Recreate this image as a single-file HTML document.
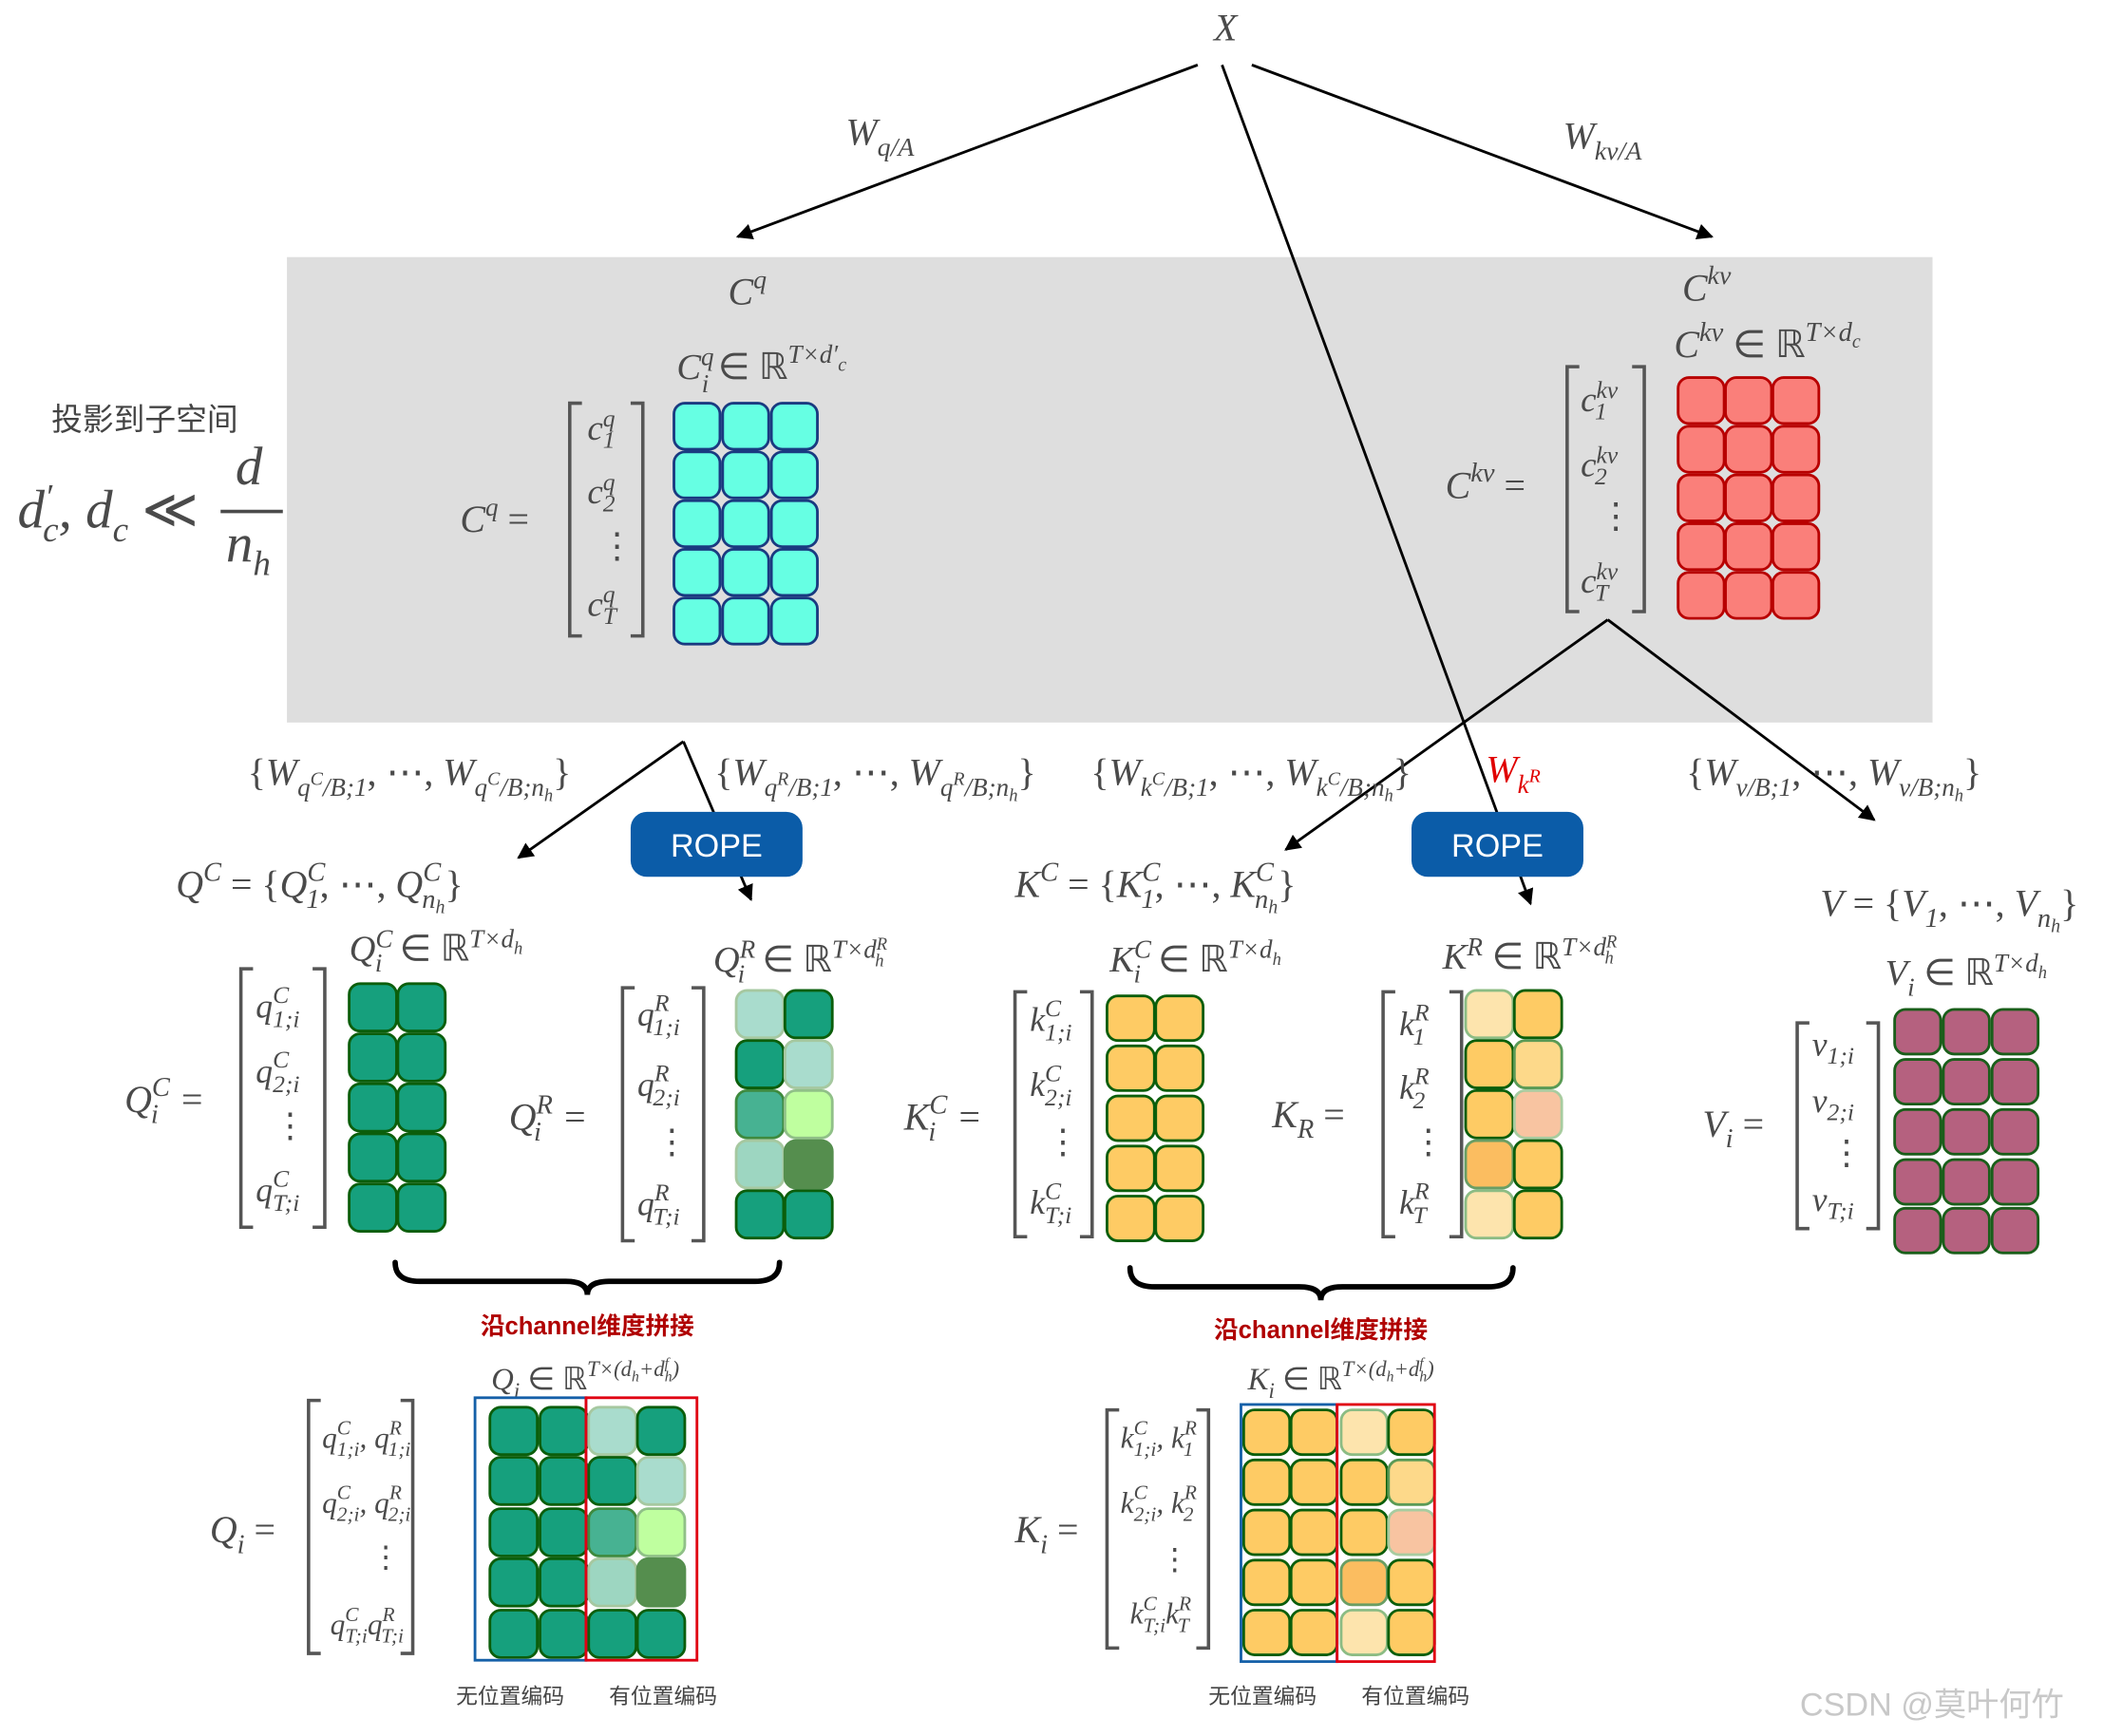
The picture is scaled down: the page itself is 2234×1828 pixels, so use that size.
<!DOCTYPE html>
<html><head><meta charset="utf-8">
<style>
html,body{margin:0;padding:0;background:#fff;}
svg{display:block;}
.m{font-family:"Liberation Serif",serif;font-style:italic;fill:#4a4a4a;}
.r{font-style:normal;}
.s{font-size:70%;}
.cn{font-family:"Liberation Sans","Noto Sans CJK SC",sans-serif;fill:#444;}
</style></head>
<body>
<svg id="svg" width="2234" height="1828" viewBox="0 0 1568 1283" preserveAspectRatio="none" xmlns="http://www.w3.org/2000/svg">
<defs>
<marker id="ar2" viewBox="0 0 10 10" refX="9" refY="5" markerWidth="12" markerHeight="12" orient="auto" markerUnits="userSpaceOnUse"><path d="M0,0 L10,5 L0,10 z" fill="#000"/></marker>
</defs>
<rect x="212" y="190" width="1216" height="344" fill="#dedede"/>

<text x="897" y="30" class="m" font-size="28">X</text>
<g stroke="#000" stroke-width="2" fill="none">
<line x1="885" y1="48" x2="545" y2="175" marker-end="url(#ar2)"/>
<line x1="925" y1="48" x2="1265" y2="175" marker-end="url(#ar2)"/>
<line x1="903" y1="48" x2="1131" y2="668" marker-end="url(#ar2)"/>
<line x1="505" y1="548" x2="383" y2="634" marker-end="url(#ar2)"/>
<line x1="505" y1="548" x2="555" y2="665" marker-end="url(#ar2)"/>
<line x1="1188" y1="458" x2="950" y2="628" marker-end="url(#ar2)"/>
<line x1="1188" y1="458" x2="1385" y2="606" marker-end="url(#ar2)"/>
</g>
<text x="625" y="107" class="m" font-size="28">W<tspan class="s" dy="8">q/A</tspan></text>
<text x="1155" y="110" class="m" font-size="28">W<tspan class="s" dy="8">kv/A</tspan></text>

<text x="38" y="318" class="cn" font-size="23">投影到子空间</text>
<text x="13" y="390" class="m" font-size="40">d<tspan font-size="26" dy="-14">′</tspan><tspan font-size="26" dx="-7" dy="24">c</tspan><tspan dy="-10">, d</tspan><tspan font-size="26" dy="10">c</tspan><tspan class="r" dy="-10"> ≪</tspan></text>
<text x="174" y="358" class="m" font-size="40">d</text>
<line x1="163" y1="378" x2="209" y2="378" stroke="#4a4a4a" stroke-width="2.5"/>
<text x="167" y="415" class="m" font-size="40">n<tspan font-size="26" dy="10">h</tspan></text>

<text x="538" y="225" class="m" font-size="28">C<tspan class="s" dy="-12">q</tspan></text>
<text x="500" y="280" class="m" font-size="27">C<tspan font-size="19" dy="-10">q</tspan><tspan font-size="19" dx="-9" dy="20">i</tspan><tspan class="r" dy="-10"> ∈ ℝ</tspan><tspan font-size="19" dy="-12">T×d′</tspan><tspan font-size="14" dy="6">c</tspan></text>
<text x="340" y="393" class="m" font-size="28">C<tspan font-size="19" dy="-12">q</tspan><tspan class="r" dy="12"> =</tspan></text>
<path d="M430,298 H421 V470 H430 M466,298 H475 V470 H466" stroke="#555" stroke-width="2.5" fill="none"/>
<g class="m" font-size="26">
<text x="434" y="325">c<tspan font-size="18" dy="-10">q</tspan><tspan font-size="18" dx="-9" dy="16">1</tspan></text>
<text x="434" y="372">c<tspan font-size="18" dy="-10">q</tspan><tspan font-size="18" dx="-9" dy="16">2</tspan></text>
<text x="443" y="412" class="r">⋮</text>
<text x="434" y="455">c<tspan font-size="18" dy="-10">q</tspan><tspan font-size="18" dx="-9" dy="16">T</tspan></text>
</g>

<text x="1243" y="222" class="m" font-size="28">C<tspan class="s" dy="-12">kv</tspan></text>
<text x="1237" y="264" class="m" font-size="28">C<tspan font-size="20" dy="-12">kv</tspan><tspan class="r" dy="12"> ∈ ℝ</tspan><tspan font-size="20" dy="-12">T×d</tspan><tspan font-size="14" dy="5">c</tspan></text>
<text x="1068" y="368" class="m" font-size="28">C<tspan font-size="20" dy="-12">kv</tspan><tspan class="r" dy="12"> =</tspan></text>
<path d="M1167,271 H1158 V452 H1167 M1206,271 H1215 V452 H1206" stroke="#555" stroke-width="2.5" fill="none"/>
<g class="m" font-size="26">
<text x="1168" y="304">c<tspan font-size="18" dy="-10">kv</tspan><tspan font-size="18" dx="-17" dy="16">1</tspan></text>
<text x="1168" y="352">c<tspan font-size="18" dy="-10">kv</tspan><tspan font-size="18" dx="-17" dy="16">2</tspan></text>
<text x="1181" y="390" class="r">⋮</text>
<text x="1168" y="438">c<tspan font-size="18" dy="-10">kv</tspan><tspan font-size="18" dx="-17" dy="16">T</tspan></text>
</g>

<rect x="466" y="600" width="127" height="48" rx="12" fill="#0b5ca8"/>
<text x="529.5" y="633" text-anchor="middle" font-family="Liberation Sans,sans-serif" font-size="24" fill="#fff">ROPE</text>
<rect x="1043" y="600" width="127" height="48" rx="12" fill="#0b5ca8"/>
<text x="1106.5" y="633" text-anchor="middle" font-family="Liberation Sans,sans-serif" font-size="24" fill="#fff">ROPE</text>

<g class="m" font-size="28">
<text x="183" y="580"><tspan class="r">{</tspan>W<tspan font-size="19" dy="8">q</tspan><tspan font-size="14" dy="-8">C</tspan><tspan font-size="19" dy="8">/B;1</tspan><tspan class="r" dy="-8">, ⋯, </tspan>W<tspan font-size="19" dy="8">q</tspan><tspan font-size="14" dy="-8">C</tspan><tspan font-size="19" dy="8">/B;n</tspan><tspan font-size="13" dy="4">h</tspan><tspan class="r" dy="-12">}</tspan></text>
<text x="528" y="580"><tspan class="r">{</tspan>W<tspan font-size="19" dy="8">q</tspan><tspan font-size="14" dy="-8">R</tspan><tspan font-size="19" dy="8">/B;1</tspan><tspan class="r" dy="-8">, ⋯, </tspan>W<tspan font-size="19" dy="8">q</tspan><tspan font-size="14" dy="-8">R</tspan><tspan font-size="19" dy="8">/B;n</tspan><tspan font-size="13" dy="4">h</tspan><tspan class="r" dy="-12">}</tspan></text>
<text x="806" y="580"><tspan class="r">{</tspan>W<tspan font-size="19" dy="8">k</tspan><tspan font-size="14" dy="-8">C</tspan><tspan font-size="19" dy="8">/B;1</tspan><tspan class="r" dy="-8">, ⋯, </tspan>W<tspan font-size="19" dy="8">k</tspan><tspan font-size="14" dy="-8">C</tspan><tspan font-size="19" dy="8">/B;n</tspan><tspan font-size="13" dy="4">h</tspan><tspan class="r" dy="-12">}</tspan></text>
<text x="1098" y="578" style="fill:#e00000">W<tspan font-size="19" dy="8">k</tspan><tspan font-size="14" dy="-8">R</tspan></text>
<text x="1246" y="580"><tspan class="r">{</tspan>W<tspan font-size="19" dy="8">v/B;1</tspan><tspan class="r" dy="-8">, ⋯, </tspan>W<tspan font-size="19" dy="8">v/B;n</tspan><tspan font-size="13" dy="4">h</tspan><tspan class="r" dy="-12">}</tspan></text>
</g>
<g class="m" font-size="28">
<text x="130" y="663">Q<tspan font-size="20" dy="-12">C</tspan><tspan class="r" dy="12"> = {</tspan>Q<tspan font-size="20" dy="-12">C</tspan><tspan font-size="20" dx="-14" dy="20">1</tspan><tspan class="r" dy="-8">, ⋯, </tspan>Q<tspan font-size="20" dy="-12">C</tspan><tspan font-size="20" dx="-14" dy="20">n</tspan><tspan font-size="14" dy="4">h</tspan><tspan class="r" dy="-12">}</tspan></text>
<text x="750" y="663">K<tspan font-size="20" dy="-12">C</tspan><tspan class="r" dy="12"> = {</tspan>K<tspan font-size="20" dy="-12">C</tspan><tspan font-size="20" dx="-14" dy="20">1</tspan><tspan class="r" dy="-8">, ⋯, </tspan>K<tspan font-size="20" dy="-12">C</tspan><tspan font-size="20" dx="-14" dy="20">n</tspan><tspan font-size="14" dy="4">h</tspan><tspan class="r" dy="-12">}</tspan></text>
<text x="1345" y="677">V<tspan class="r"> = {</tspan>V<tspan font-size="20" dy="8">1</tspan><tspan class="r" dy="-8">, ⋯, </tspan>V<tspan font-size="20" dy="8">n</tspan><tspan font-size="14" dy="4">h</tspan><tspan class="r" dy="-12">}</tspan></text>
</g>

<g class="m" font-size="27">
<text x="258" y="710">Q<tspan font-size="19" dy="-10">C</tspan><tspan font-size="19" dx="-13" dy="18">i</tspan><tspan class="r" dy="-8" dx="6"> ∈ ℝ</tspan><tspan font-size="19" dy="-10">T×d</tspan><tspan font-size="13" dy="5">h</tspan></text>
<text x="527" y="718">Q<tspan font-size="19" dy="-10">R</tspan><tspan font-size="19" dx="-13" dy="18">i</tspan><tspan class="r" dy="-8" dx="6"> ∈ ℝ</tspan><tspan font-size="19" dy="-10">T×d</tspan><tspan font-size="13" dy="-6">R</tspan><tspan font-size="13" dx="-9" dy="12">h</tspan></text>
<text x="820" y="718">K<tspan font-size="19" dy="-10">C</tspan><tspan font-size="19" dx="-13" dy="18">i</tspan><tspan class="r" dy="-8" dx="6"> ∈ ℝ</tspan><tspan font-size="19" dy="-10">T×d</tspan><tspan font-size="13" dy="5">h</tspan></text>
<text x="1066" y="716">K<tspan font-size="19" dy="-10">R</tspan><tspan class="r" dy="10"> ∈ ℝ</tspan><tspan font-size="19" dy="-10">T×d</tspan><tspan font-size="13" dy="-6">R</tspan><tspan font-size="13" dx="-9" dy="12">h</tspan></text>
<text x="1393" y="728">V<tspan font-size="19" dy="8">i</tspan><tspan class="r" dy="-8"> ∈ ℝ</tspan><tspan font-size="19" dy="-10">T×d</tspan><tspan font-size="13" dy="5">h</tspan></text>
</g>
<g class="m" font-size="28">
<text x="92" y="822">Q<tspan font-size="20" dy="-12">C</tspan><tspan font-size="20" dx="-14" dy="20">i</tspan><tspan class="r" dy="-8" dx="10"> =</tspan></text>
<text x="376" y="835">Q<tspan font-size="20" dy="-12">R</tspan><tspan font-size="20" dx="-14" dy="20">i</tspan><tspan class="r" dy="-8" dx="10"> =</tspan></text>
<text x="668" y="835">K<tspan font-size="20" dy="-12">C</tspan><tspan font-size="20" dx="-14" dy="20">i</tspan><tspan class="r" dy="-8" dx="10"> =</tspan></text>
<text x="940" y="833">K<tspan font-size="20" dy="8">R</tspan><tspan class="r" dy="-8"> =</tspan></text>
<text x="1258" y="840">V<tspan font-size="20" dy="8">i</tspan><tspan class="r" dy="-8"> =</tspan></text>
<text x="155" y="1140">Q<tspan font-size="20" dy="8">i</tspan><tspan class="r" dy="-8"> =</tspan></text>
<text x="750" y="1140">K<tspan font-size="20" dy="8">i</tspan><tspan class="r" dy="-8"> =</tspan></text>
</g>
<g stroke="#555" stroke-width="2.5" fill="none">
<path d="M187,716 H178 V907 H187 M231,716 H240 V907 H231"/>
<path d="M469,730 H460 V917 H469 M511,730 H520 V917 H511"/>
<path d="M759,733 H750 V914 H759 M798,733 H807 V914 H798"/>
<path d="M1031,733 H1022 V914 H1031 M1071,733 H1080 V914 H1071"/>
<path d="M1337,756 H1328 V908 H1337 M1379,756 H1388 V908 H1379"/>
<path d="M237,1035 H228 V1222 H237 M296,1035 H305 V1222 H296"/>
<path d="M827,1042 H818 V1218 H827 M884,1042 H893 V1218 H884"/>
</g>
<g class="m" font-size="25">
<text x="189" y="752">q<tspan font-size="18" dy="-11">C</tspan><tspan font-size="18" dx="-12" dy="18">1;i</tspan></text>
<text x="189" y="800">q<tspan font-size="18" dy="-11">C</tspan><tspan font-size="18" dx="-12" dy="18">2;i</tspan></text>
<text x="202" y="840" class="r">⋮</text>
<text x="189" y="888">q<tspan font-size="18" dy="-11">C</tspan><tspan font-size="18" dx="-12" dy="18">T;i</tspan></text>
<text x="471" y="758">q<tspan font-size="18" dy="-11">R</tspan><tspan font-size="18" dx="-12" dy="18">1;i</tspan></text>
<text x="471" y="810">q<tspan font-size="18" dy="-11">R</tspan><tspan font-size="18" dx="-12" dy="18">2;i</tspan></text>
<text x="484" y="852" class="r">⋮</text>
<text x="471" y="898">q<tspan font-size="18" dy="-11">R</tspan><tspan font-size="18" dx="-12" dy="18">T;i</tspan></text>
<text x="761" y="762">k<tspan font-size="18" dy="-11">C</tspan><tspan font-size="18" dx="-12" dy="18">1;i</tspan></text>
<text x="761" y="810">k<tspan font-size="18" dy="-11">C</tspan><tspan font-size="18" dx="-12" dy="18">2;i</tspan></text>
<text x="773" y="852" class="r">⋮</text>
<text x="761" y="897">k<tspan font-size="18" dy="-11">C</tspan><tspan font-size="18" dx="-12" dy="18">T;i</tspan></text>
<text x="1034" y="765">k<tspan font-size="18" dy="-11">R</tspan><tspan font-size="18" dx="-12" dy="18">1</tspan></text>
<text x="1034" y="812">k<tspan font-size="18" dy="-11">R</tspan><tspan font-size="18" dx="-12" dy="18">2</tspan></text>
<text x="1043" y="852" class="r">⋮</text>
<text x="1034" y="897">k<tspan font-size="18" dy="-11">R</tspan><tspan font-size="18" dx="-12" dy="18">T</tspan></text>
<text x="1339" y="780">v<tspan font-size="18" dy="6">1;i</tspan></text>
<text x="1339" y="822">v<tspan font-size="18" dy="6">2;i</tspan></text>
<text x="1352" y="860" class="r">⋮</text>
<text x="1339" y="895">v<tspan font-size="18" dy="6">T;i</tspan></text>
</g>
<g class="m" font-size="22">
<text x="238" y="1070">q<tspan font-size="15" dy="-10">C</tspan><tspan font-size="15" dx="-10" dy="16">1;i</tspan><tspan dy="-6">, q</tspan><tspan font-size="15" dy="-10">R</tspan><tspan font-size="15" dx="-10" dy="16">1;i</tspan></text>
<text x="238" y="1118">q<tspan font-size="15" dy="-10">C</tspan><tspan font-size="15" dx="-10" dy="16">2;i</tspan><tspan dy="-6">, q</tspan><tspan font-size="15" dy="-10">R</tspan><tspan font-size="15" dx="-10" dy="16">2;i</tspan></text>
<text x="274" y="1158" class="r">⋮</text>
<text x="244" y="1208">q<tspan font-size="15" dy="-10">C</tspan><tspan font-size="15" dx="-10" dy="16">T;i</tspan><tspan dy="-6">q</tspan><tspan font-size="15" dy="-10">R</tspan><tspan font-size="15" dx="-10" dy="16">T;i</tspan></text>
<text x="828" y="1070">k<tspan font-size="15" dy="-10">C</tspan><tspan font-size="15" dx="-10" dy="16">1;i</tspan><tspan dy="-6">, k</tspan><tspan font-size="15" dy="-10">R</tspan><tspan font-size="15" dx="-10" dy="16">1</tspan></text>
<text x="828" y="1118">k<tspan font-size="15" dy="-10">C</tspan><tspan font-size="15" dx="-10" dy="16">2;i</tspan><tspan dy="-6">, k</tspan><tspan font-size="15" dy="-10">R</tspan><tspan font-size="15" dx="-10" dy="16">2</tspan></text>
<text x="857" y="1160" class="r">⋮</text>
<text x="835" y="1200">k<tspan font-size="15" dy="-10">C</tspan><tspan font-size="15" dx="-10" dy="16">T;i</tspan><tspan dy="-6">k</tspan><tspan font-size="15" dy="-10">R</tspan><tspan font-size="15" dx="-10" dy="16">T</tspan></text>
</g>

<g stroke="#000" stroke-width="4" fill="none" stroke-linecap="round">
<path d="M292,933 Q292,947 310,947 L418,947 Q434,947 434,957 Q434,947 450,947 L558,947 Q576,947 576,933"/>
<path d="M835,937 Q835,951 853,951 L960,951 Q976,951 976,961 Q976,951 992,951 L1100,951 Q1118,951 1118,937"/>
</g>
<g font-family="Liberation Sans,'Noto Sans CJK SC',sans-serif" font-size="18" font-weight="bold" fill="#b00000" text-anchor="middle">
<text x="434" y="986">沿channel维度拼接</text>
<text x="976" y="989">沿channel维度拼接</text>
</g>
<g class="m" font-size="23">
<text x="363" y="1027">Q<tspan font-size="16" dy="6">i</tspan><tspan class="r" dy="-6"> ∈ ℝ</tspan><tspan font-size="16" dy="-10">T×(d</tspan><tspan font-size="11" dy="4">h</tspan><tspan font-size="16" dy="-4">+d</tspan><tspan font-size="11" dy="-6">f</tspan><tspan font-size="11" dx="-3" dy="10">h</tspan><tspan font-size="16" dy="-4">)</tspan></text>
<text x="922" y="1027">K<tspan font-size="16" dy="6">i</tspan><tspan class="r" dy="-6"> ∈ ℝ</tspan><tspan font-size="16" dy="-10">T×(d</tspan><tspan font-size="11" dy="4">h</tspan><tspan font-size="16" dy="-4">+d</tspan><tspan font-size="11" dy="-6">f</tspan><tspan font-size="11" dx="-3" dy="10">h</tspan><tspan font-size="16" dy="-4">)</tspan></text>
</g>
<g id="cells"></g>
<rect x="351" y="1033" width="82" height="194" fill="none" stroke="#1560a8" stroke-width="2"/>
<rect x="433" y="1033" width="82" height="194" fill="none" stroke="#e00012" stroke-width="2"/>
<rect x="917" y="1038" width="71" height="190" fill="none" stroke="#1560a8" stroke-width="2"/>
<rect x="988" y="1038" width="72" height="190" fill="none" stroke="#e00012" stroke-width="2"/>
<g class="cn" font-size="16">
<text x="337" y="1259">无位置编码</text><text x="450" y="1259">有位置编码</text>
<text x="893" y="1259">无位置编码</text><text x="1006" y="1259">有位置编码</text>
</g>
<text x="1330" y="1268" font-family="Liberation Sans,'Noto Sans CJK SC',sans-serif" font-size="24" fill="#c8c8c8">CSDN @莫叶何竹</text>
</svg>
<script>
(function(){
var g=document.getElementById('cells'),NS='http://www.w3.org/2000/svg';
function cell(x,y,w,h,f,s,sw){var r=document.createElementNS(NS,'rect');r.setAttribute('x',x);r.setAttribute('y',y);r.setAttribute('width',w);r.setAttribute('height',h);r.setAttribute('rx',8);r.setAttribute('fill',f);r.setAttribute('stroke',s);r.setAttribute('stroke-width',sw||2);g.appendChild(r);}
function grid(xs,ys,w,h,fn){for(var i=0;i<ys.length;i++)for(var j=0;j<xs.length;j++){var c=fn(i,j);cell(xs[j],ys[i],w,h,c[0],c[1],c[2]);}}
var DG='#0b5e0b',LS='#a6c8a0';
grid([498,534,570],[298,334,370,406,442],34,34,function(){return['#66ffe3','#1a3a80',2];});
grid([1240,1275,1310],[279,315,351,387,423],34,34,function(){return['#fa7f7a','#b80000',2];});
var GR='#16a07d';
grid([258,294],[727,764,801,838,875],35,35,function(){return[GR,DG,2];});
var qr=[[['#a9dccd',LS],[GR,DG]],[[GR,DG],['#a9dccd',LS]],[['#47b292','#3e8a3e'],['#bfff9f','#90c088']],[['#9dd6c1',LS],['#558e4e','#558e4e']],[[GR,DG],[GR,DG]]];
grid([544,580],[732,769,806,843,880],35,35,function(i,j){return[qr[i][j][0],qr[i][j][1],2];});
var Y='#fecb64';
grid([818,854],[736,773,810,847,884],35,33,function(){return[Y,DG,2];});
var kr=[[['#fde4ad','#8cbc84'],[Y,DG]],[[Y,DG],['#fdd98a','#5a9a55']],[[Y,DG],['#f8c4a1','#a8cca0']],[['#fbbd60','#6a9e64'],[Y,DG]],[['#fde4ad','#8cbc84'],[Y,DG]]];
grid([1083,1119],[732,769,806,843,880],35,35,function(i,j){return[kr[i][j][0],kr[i][j][1],2];});
grid([1400,1436,1472],[746,783,820,857,893],34,33,function(){return['#b5617f','#1a5e1a',2];});
grid([362,399,435,471],[1040,1077,1115,1152,1190],35,35,function(i,j){if(j<2)return[GR,DG,2];var c=qr[i][j-2];return[c[0],c[1],2];});
grid([919,954,991,1026],[1042,1079,1116,1153,1190],34,33,function(i,j){if(j<2)return[Y,DG,2];var c=kr[i][j-2];return[c[0],c[1],2];});
})();
</script>
</body></html>
